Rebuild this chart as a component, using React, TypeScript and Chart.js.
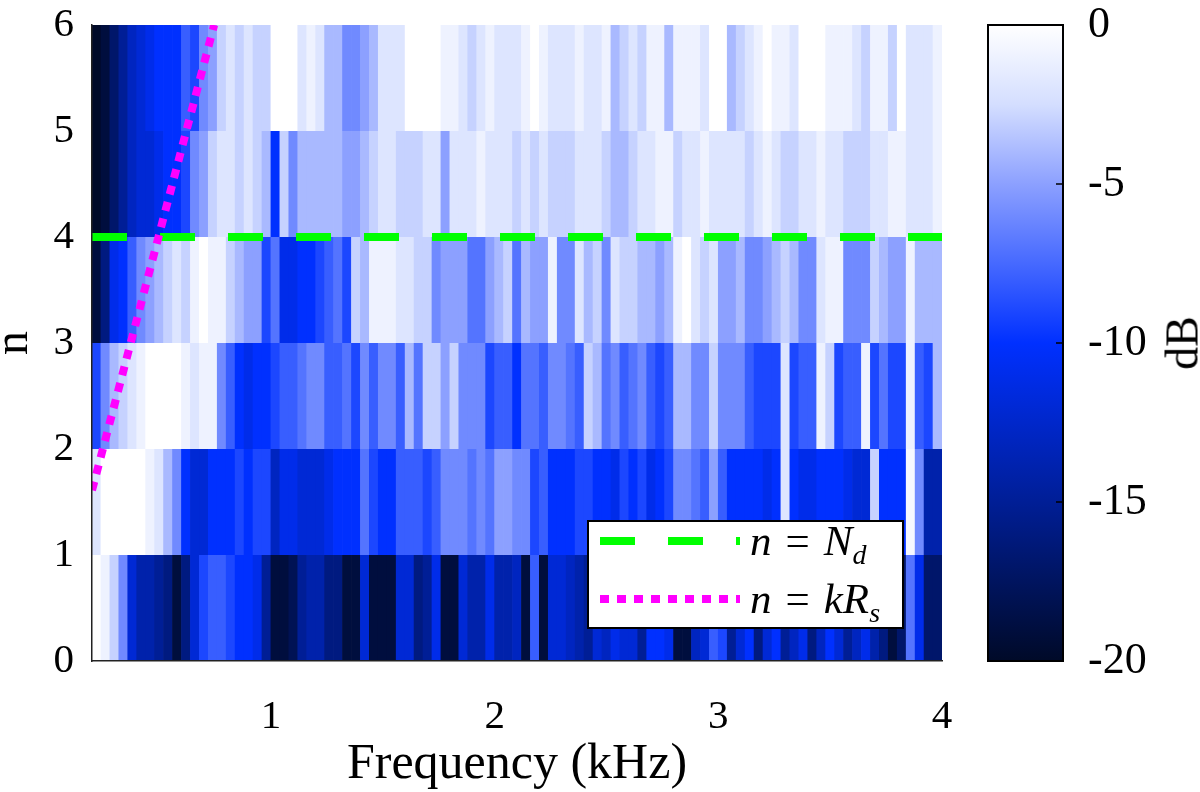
import React, { useEffect, useRef } from 'react';
import { Chart, registerables } from 'chart.js';

Chart.register(...registerables);

// bin centres in kHz (40 Hz bins, 0.2 - 4.0 kHz)
const FREQS = [
  0.22, 0.26, 0.30, 0.34, 0.38, 0.42, 0.46, 0.50, 0.54, 0.58,
  0.62, 0.66, 0.70, 0.74, 0.78, 0.82, 0.86, 0.90, 0.94, 0.98,
  1.02, 1.06, 1.10, 1.14, 1.18, 1.22, 1.26, 1.30, 1.34, 1.38,
  1.42, 1.46, 1.50, 1.54, 1.58, 1.62, 1.66, 1.70, 1.74, 1.78,
  1.82, 1.86, 1.90, 1.94, 1.98, 2.02, 2.06, 2.10, 2.14, 2.18,
  2.22, 2.26, 2.30, 2.34, 2.38, 2.42, 2.46, 2.50, 2.54, 2.58,
  2.62, 2.66, 2.70, 2.74, 2.78, 2.82, 2.86, 2.90, 2.94, 2.98,
  3.02, 3.06, 3.10, 3.14, 3.18, 3.22, 3.26, 3.30, 3.34, 3.38,
  3.42, 3.46, 3.50, 3.54, 3.58, 3.62, 3.66, 3.70, 3.74, 3.78,
  3.82, 3.86, 3.90, 3.94, 3.98,
];

// level in dB for each order n, one value per frequency bin
const LEVEL_N0 = [
  0, -1, -3, -6, -12, -14, -14, -15, -16, -19, -16, -12, -9, -8, -8, -9, -10, -10, -11, -15, -19, -19, -18, -15,
  -14, -14, -16, -16, -19, -19, -12, -19, -19, -19, -12, -12, -16, -15, -11, -19, -19, -12, -14, -14, -11, -14, -14, -13,
  -19, -8, -19, -12, -12, -13, -14, -15, -12, -13, -11, -12, -12, -15, -10, -10, -11, -19, -19, -13, -12, -8, -9, -15,
  -12, -10, -16, -12, -10, -15, -13, -11, -16, -13, -10, -12, -15, -13, -11, -14, -16, -19, -17, -7, -11, -17, -17,
];
const LEVEL_N1 = [
  -2, 0, 0, 0, 0, 0, -1, -2, -4, -6, -10, -12, -12, -10, -10, -10, -9, -10, -9, -9, -13, -11, -11, -12,
  -12, -12, -11, -10, -10, -10, -7, -9, -10, -10, -8, -8, -8, -9, -8, -6, -6, -6, -7, -6, -7, -5, -5, -6,
  -6, -9, -8, -10, -10, -10, -9, -9, -10, -10, -11, -9, -10, -9, -11, -10, -9, -6, -6, -7, -8, -5, -8, -10,
  -10, -10, -10, -11, -10, -2, -10, -11, -11, -10, -10, -10, -11, -12, -12, -3, -10, -10, -10, -0.5, -6, -14, -14,
];
const LEVEL_N2 = [
  -9, -6, -4, -3, -2, -1, 0, 0, 0, 0, -1, -2, -1, -1, -6, -8, -10, -11, -10, -10, -9, -8, -8, -7,
  -6, -6, -8, -8, -7, -9, -6, -8, -6, -6, -8, -4, -7, -3, -3, -5, -3, -6, -6, -6, -9, -8, -8, -10,
  -7, -7, -8, -6, -6, -7, -8, -3, -4, -7, -6, -8, -7, -6, -8, -9, -8, -4, -4, -6, -6, -3, -6, -6,
  -6, -8, -9, -9, -9, -2, -9, -8, -8, -1, -3, -9, -8, -8, -1, -9, -7, -9, -9, -1, -8, -9, -4,
];
const LEVEL_N3 = [
  -19, -16, -11, -10, -8, -6, -5, -4, -3, -2, -3, -1, 0, -1, -1, -3, -4, -5, -5, -9, -7, -11, -11, -10,
  -10, -9, -8, -7, -9, -3, -4, -1, -1, -1, -2, -2, -3, -3, -6, -5, -5, -5, -7, -7, -5, -4, -3, -7,
  -4, -5, -5, -1, -6, -6, -2, -4, -3, -6, -2, -3, -3, -4, -4, -5, -4, -1, 0, -2, -3, -2, -5, -5,
  -4, -6, -6, -5, -4, -3, -4, -6, -6, -2, -1, -1, -6, -6, -6, -3, -4, -5, -5, -1, -4, -4, -4,
];
const LEVEL_N4 = [
  -20, -19, -17, -15, -13, -12, -12, -11, -10, -10, -9, -6, -5, -3, -2, -2, -3, -2, -3, -4, -10, -3, -6, -4,
  -4, -4, -4, -4, -5, -5, -4, -3, -2, -2, -3, -3, -3, -2, -2, -5, -2, -2, -2, -1, -2, -2, -2, -3,
  -2, -3, -2, -3, -3, -3, -2, -2, -2, -3, -4, -4, -3, -2, -2, -1, -1, -3, -2, -2, -1, -2, -2, -2,
  -2, -3, -2, -1, -2, -3, -3, -2, -2, -1, -2, -2, -3, -3, -3, -2, -2, -1, -1, -2, -2, -2, -1,
];
const LEVEL_N5 = [
  -20, -19, -17, -15, -13, -12, -11, -10, -10, -10, -8, -9, -6, -5, -3, -2, -3, -2, -3, -3, 0, 0, 0, -2,
  -1, -2, -4, -4, -6, -6, -5, -4, -2, -2, -2, 0, 0, 0, 0, -1, -1, -2, -3, -2, -1, -2, -2, -2,
  -1, 0, -1, -2, -2, -2, -1, -2, -2, -1, -4, -3, -2, -3, -1, -1, -4, -1, -1, -1, -2, 0, 0, -4,
  -3, -2, -1, 0, -1, -1, -2, 0, 0, 0, -1, -1, -1, -2, -3, -1, -1, -3, 0, -2, -2, -2, -1,
];

const ORDERS = [0, 1, 2, 3, 4, 5];
const LEVELS = [LEVEL_N0, LEVEL_N1, LEVEL_N2, LEVEL_N3, LEVEL_N4, LEVEL_N5];

const X_TICKS = [1, 2, 3, 4];
const CB_MIN = -20;
const CB_MAX = 0;

const ND_LINE = [{ x: 0.2, y: 4 }, { x: 4, y: 4 }];
const KRS_LINE = [{ x: 0.2, y: 1.61 }, { x: 0.746, y: 6 }];

const SERIF = '"Liberation Serif", "Times New Roman", serif';
const GREEN = '#00ff00';
const MAGENTA = '#ff00ff';

// colormap knots: navy -> blue -> white
const CMAP_DB = [-20, -15, -10, -7.5, -5, -2.5, 0];
const CMAP_RGB = [
  [0, 10, 40], [0, 30, 150], [0, 48, 255], [70, 105, 255], [140, 160, 255], [212, 222, 255], [255, 255, 255],
];

function dbColor(db: number) {
  const v = Math.max(CB_MIN, Math.min(CB_MAX, db));
  let k = 0;
  while (k < CMAP_DB.length - 2 && v > CMAP_DB[k + 1]) k++;
  const u = (v - CMAP_DB[k]) / (CMAP_DB[k + 1] - CMAP_DB[k]);
  const a = CMAP_RGB[k];
  const b = CMAP_RGB[k + 1];
  const c = a.map((x, i) => Math.round(x + (b[i] - x) * u));
  return `rgb(${c[0]},${c[1]},${c[2]})`;
}

function Spectrum() {
  const ref = useRef<HTMLCanvasElement>(null);

  useEffect(() => {
    if (!ref.current) return;
    const tickFont = { family: SERIF, size: 41 };

    const bars = LEVELS.map((row, r) => ({
      type: 'bar' as const,
      data: FREQS.map((f) => ({ x: f, y: [ORDERS[r], ORDERS[r] + 1] })),
      backgroundColor: row.map(dbColor),
      borderWidth: 0,
      barPercentage: 1.08,
      categoryPercentage: 1,
      grouped: false,
      order: 2,
    }));

    const chart = new Chart(ref.current, {
      type: 'bar',
      data: {
        datasets: [
          { type: 'line', data: KRS_LINE, borderColor: MAGENTA, borderWidth: 8, borderDash: [9, 8], borderCapStyle: 'butt', pointRadius: 0, order: 0 },
          { type: 'line', data: ND_LINE, borderColor: GREEN, borderWidth: 8, borderDash: [35, 33], borderCapStyle: 'butt', pointRadius: 0, order: 1 },
          ...bars,
        ] as any,
      },
      options: {
        animation: false,
        responsive: false,
        layout: { padding: { top: 25, right: 18, left: 0, bottom: 0 } },
        plugins: { legend: { display: false }, tooltip: { enabled: false } },
        scales: {
          x: {
            type: 'linear',
            min: 0.2,
            max: 4,
            offset: false,
            grid: { display: false },
            border: { display: true, color: '#222', width: 1.5, z: 1 },
            ticks: { color: '#000', font: tickFont, padding: 24, maxRotation: 0 },
            afterBuildTicks: (s: any) => { s.ticks = X_TICKS.map((value) => ({ value })); },
            afterFit: (s: any) => { s.height = 131; s.paddingLeft = 0; s.paddingRight = 0; },
            title: { display: true, text: 'Frequency (kHz)', color: '#000', font: { family: SERIF, size: 50, lineHeight: 1.1 }, padding: 0 },
          },
          y: {
            type: 'linear',
            min: 0,
            max: 6,
            grid: { display: false },
            border: { display: true, color: '#222', width: 1.5, z: 1 },
            ticks: { stepSize: 1, color: '#000', font: tickFont, padding: 10 },
            afterFit: (s: any) => { s.width = 92; s.paddingTop = 0; s.paddingBottom = 0; },
            title: { display: true, text: 'n', color: '#000', font: { family: SERIF, size: 48, lineHeight: 0.6 }, padding: 0 },
          },
        },
      } as any,
    });

    return () => chart.destroy();
  }, []);

  return <canvas ref={ref} width={960} height={792} style={{ position: 'absolute', left: 0, top: 0 }} />;
}

const colorbarFrame = {
  id: 'colorbarFrame',
  afterDatasetsDraw(chart: any) {
    const { ctx, chartArea: a, scales } = chart;
    ctx.save();
    ctx.strokeStyle = '#000';
    ctx.lineWidth = 1.5;
    scales.y.ticks.forEach((t: any) => {
      const y = scales.y.getPixelForValue(t.value);
      ctx.beginPath();
      ctx.moveTo(a.right - 7, y);
      ctx.lineTo(a.right, y);
      ctx.stroke();
    });
    ctx.lineWidth = 2;
    ctx.strokeRect(a.left, a.top, a.right - a.left, a.bottom - a.top);
    ctx.restore();
  },
};

function Colorbar() {
  const ref = useRef<HTMLCanvasElement>(null);

  useEffect(() => {
    if (!ref.current) return;

    const chart = new Chart(ref.current, {
      type: 'bar',
      data: {
        labels: ['dB'],
        datasets: [{
          data: [[CB_MIN, CB_MAX]],
          backgroundColor: (c: any) => {
            const { ctx, chartArea } = c.chart;
            if (!chartArea) return dbColor(-10);
            const g = ctx.createLinearGradient(0, chartArea.bottom, 0, chartArea.top);
            CMAP_DB.forEach((db) => g.addColorStop((db - CB_MIN) / (CB_MAX - CB_MIN), dbColor(db)));
            return g;
          },
          borderWidth: 0,
          barPercentage: 1,
          categoryPercentage: 1,
        }],
      },
      options: {
        animation: false,
        responsive: false,
        layout: { padding: { left: 28, top: 25, bottom: 131, right: 0 } },
        plugins: { legend: { display: false }, tooltip: { enabled: false } },
        scales: {
          x: { display: false },
          y: {
            position: 'right',
            min: CB_MIN,
            max: CB_MAX,
            grid: { display: false },
            border: { display: false },
            ticks: { stepSize: 5, color: '#000', font: { family: SERIF, size: 44 }, padding: 17 },
            afterFit: (s: any) => { s.width = 137; s.paddingTop = 0; s.paddingBottom = 0; },
          },
        },
      } as any,
      plugins: [colorbarFrame],
    });

    return () => chart.destroy();
  }, []);

  return <canvas ref={ref} width={240} height={792} style={{ position: 'absolute', left: 960, top: 0 }} />;
}

const mathText: React.CSSProperties = { fontStyle: 'italic' };
const subText: React.CSSProperties = { fontStyle: 'italic', fontSize: 28, position: 'relative', top: 9 };

function Legend() {
  const rows = [
    { color: GREEN, dash: '35 33', label: <><span style={mathText}>n</span><span style={{ margin: '0 14px' }}>=</span><span style={mathText}>N</span><span style={subText}>d</span></> },
    { color: MAGENTA, dash: '9 8', label: <><span style={mathText}>n</span><span style={{ margin: '0 14px' }}>=</span><span style={mathText}>kR</span><span style={subText}>s</span></> },
  ];
  const centres = [19, 77];
  return (
    <div style={{ position: 'absolute', left: 587, top: 520, width: 317, height: 109, boxSizing: 'border-box', border: '2px solid #000', background: '#fff' }}>
      {rows.map((row, i) => (
        <React.Fragment key={i}>
          <svg width={140} height={8} style={{ position: 'absolute', left: 11, top: centres[i] - 4 }}>
            <line x1={0} y1={4} x2={140} y2={4} stroke={row.color} strokeWidth={8} strokeDasharray={row.dash} />
          </svg>
          <div style={{ position: 'absolute', left: 161, top: centres[i] - 24, height: 48, lineHeight: '48px', fontFamily: SERIF, fontSize: 43, color: '#000', whiteSpace: 'nowrap' }}>
            {row.label}
          </div>
        </React.Fragment>
      ))}
    </div>
  );
}

export default function App() {
  return (
    <div style={{ position: 'absolute', left: 0, top: 0, width: 1200, height: 792, background: '#fff', overflow: 'hidden' }}>
      <Spectrum />
      <Colorbar />
      <Legend />
      <div style={{ position: 'absolute', left: 1182, top: 343, transform: 'translate(-50%, -50%) rotate(-90deg)', fontFamily: SERIF, fontSize: 46, color: '#000', whiteSpace: 'nowrap' }}>
        dB
      </div>
    </div>
  );
}
